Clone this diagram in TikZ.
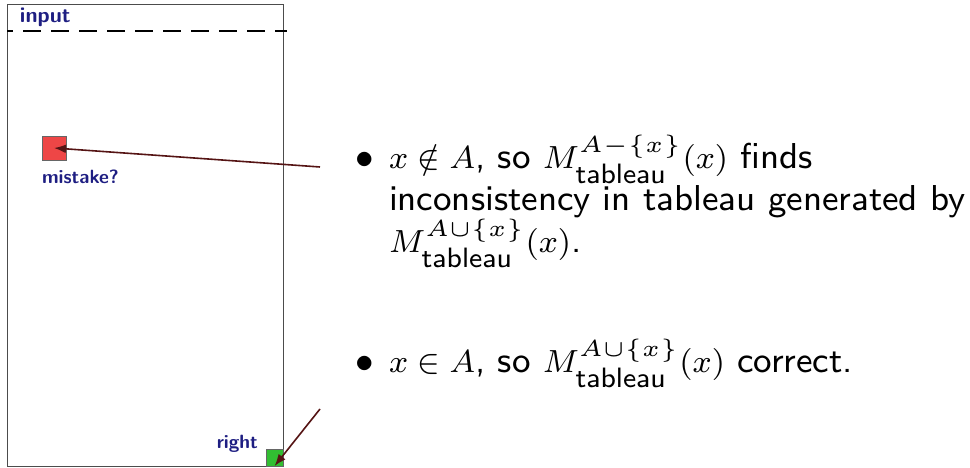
\RequirePackage{fix-cm}
\documentclass[tikz,border=0pt]{standalone}
\usepackage{xcolor}
\usetikzlibrary{arrows.meta, positioning}

\definecolor{labelblue}{RGB}{30,30,130}
\definecolor{wrongred}{RGB}{238,70,70}
\definecolor{rightgreen}{RGB}{50,190,50}
\definecolor{pointercol}{RGB}{85,20,20}

\DeclareMathSizes{8}{8}{5.8}{5}
\newcommand{\mth}[1]{{\fontsize{8}{10}\selectfont$#1$}}
\newcommand{\tabl}{\raisebox{0.7pt}{\sffamily\fontsize{7}{8}\selectfont tableau}}

\begin{document}
\begin{tikzpicture}[x=0.25pt, y=-0.25pt,
    every node/.style={inner sep=0pt, outer sep=0pt},
    tag/.style={font=\sffamily\bfseries\fontsize{4.8}{5.5}\selectfont, text=labelblue},
    markbox/.style={draw=gray!80!black, line width=0.2pt, minimum size=6pt},
    pointer/.style={draw=pointercol, line width=0.4pt, -{Latex[length=3pt, width=2.2pt]}},
    body/.style={font=\sffamily\fontsize{9}{10.5}\selectfont, anchor=base west}]
    \useasboundingbox (0,0) rectangle (970,468);

    % the tape
    \draw[gray!60!black, line width=0.25pt] (7,5) rectangle (283,466);
    \draw[line width=0.5pt, dash pattern=on 4.5pt off 2.5pt, dash phase=3pt] (7,31) -- (287,31);
    \node[tag, anchor=base west, font=\sffamily\bfseries\fontsize{5.4}{6}\selectfont] (inlabel) at (20,23) {input};

    % marked cells
    \node[markbox, fill=wrongred] (mistake) at (54,148) {};
    \node[tag, below=2.5pt of mistake.south west, anchor=north west] (mistakelabel) {mistake?};
    \node[markbox, fill=rightgreen, minimum size=4.3pt] (correct) at (274.5,457.5) {};
    \node[tag, left=2pt of correct.north west, anchor=base east] (rightlabel) {right};

    % explanation
    \node[body, anchor=base] (dot1) at (365,169) {$\bullet$};
    \node[body] (first1) at (389,169) {\mth{x\notin A}, so \mth{M^{A-\{x\}}_{\tabl}(x)} finds};
    \node[body] (first2) at (389,211) {inconsistency in tableau generated by};
    \node[body] (first3) at (389,253) {\mth{M^{A\cup\{x\}}_{\tabl}(x)}.};
    \node[body, anchor=base] (dot2) at (365,373) {$\bullet$};
    \node[body] (second) at (389,373) {\mth{x\in A}, so \mth{M^{A\cup\{x\}}_{\tabl}(x)} correct.};

    \coordinate (from1) at (320,167);
    \coordinate (from2) at (320,409);
    \draw[pointer] (from1) -- (mistake.center);
    \draw[pointer] (from2) -- (correct.south);
\end{tikzpicture}
\end{document}
